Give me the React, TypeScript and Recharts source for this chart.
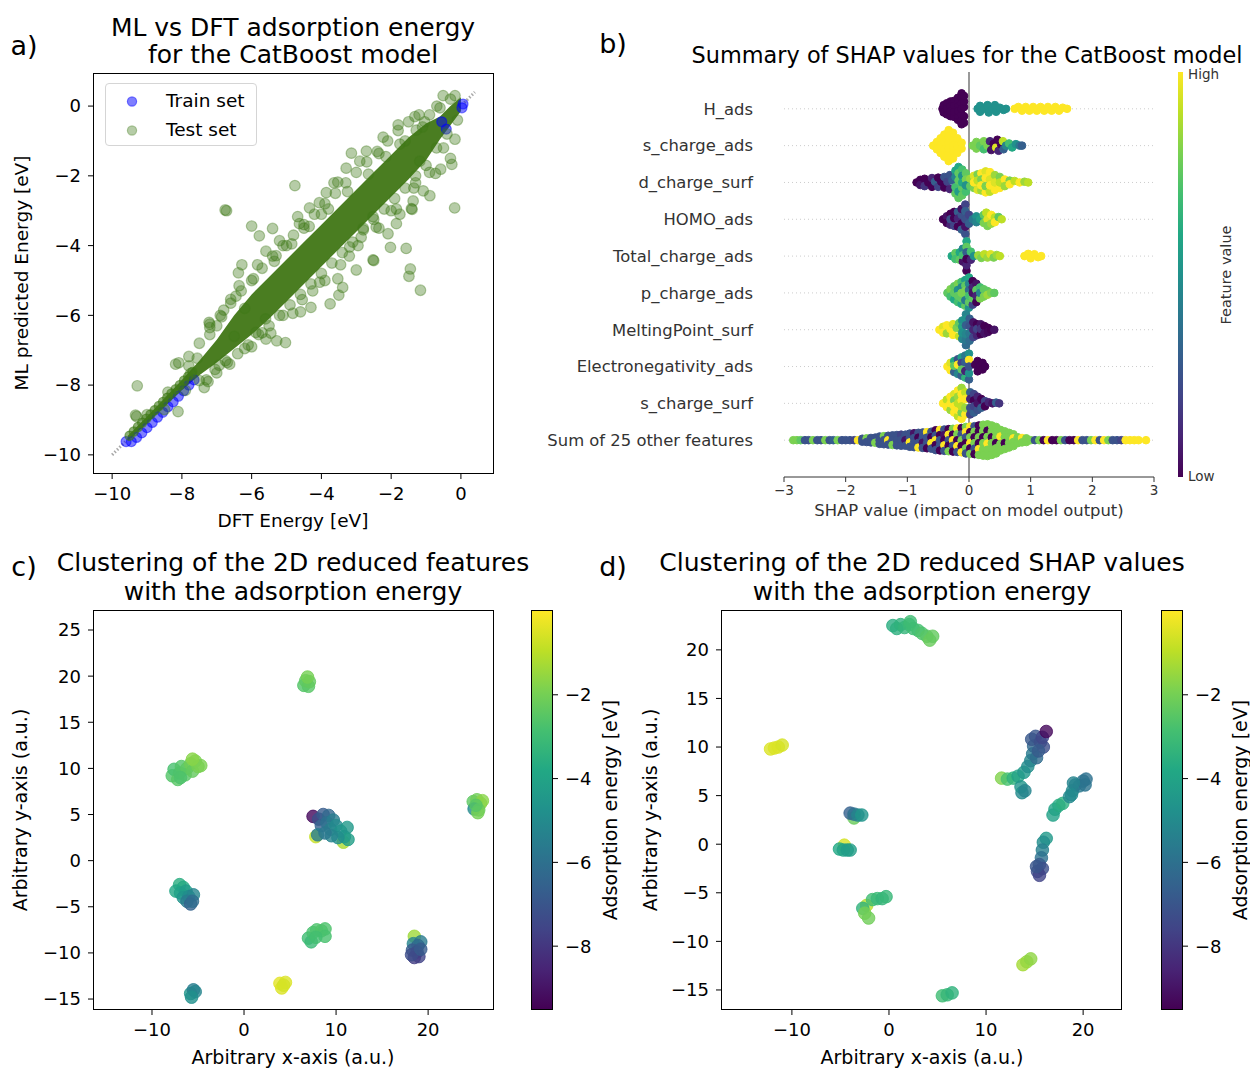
import React from 'react';
import { ComposedChart, ScatterChart, BarChart, Scatter, Area, Bar, XAxis, YAxis, ReferenceLine } from 'recharts';

// ---------------- DATA ----------------
// Panel a: parity plot
const A_TICKS = [-10, -8, -6, -4, -2, 0];
// y = x guide, visible parts beyond the dense band
const DIAG_SEGMENTS = [[[-10, -10], [-9.62, -9.62]], [[0.1, 0.1], [0.4, 0.4]]];
const BAND_X = [-9.55, -9.0, -8.5, -8.0, -7.5, -7.0, -6.5, -6.0, -5.5, -5.0, -4.5, -4.0, -3.5, -3.0, -2.5, -2.0, -1.5, -1.0, -0.6, -0.3, 0.0];
const BAND_LO = [-9.6, -9.1, -8.62, -8.15, -7.72, -7.35, -6.95, -6.55, -6.1, -5.6, -5.1, -4.6, -4.1, -3.6, -3.1, -2.6, -2.1, -1.55, -0.95, -0.55, -0.15];
const BAND_HI = [-9.45, -8.9, -8.38, -7.85, -7.3, -6.7, -6.0, -5.4, -4.9, -4.4, -3.9, -3.4, -2.9, -2.4, -1.9, -1.4, -0.9, -0.5, -0.3, 0.0, 0.25];
const TRAIN_SET = [[-9.6, -9.62], [-9.45, -9.62], [-9.3, -9.5], [-9.15, -9.37], [-9.0, -9.22], [-8.85, -9.07], [-8.7, -8.92], [-8.55, -8.78], [-8.4, -8.62], [-8.25, -8.48], [-8.1, -8.32], [-7.95, -8.16], [-7.8, -8.0], [-7.65, -7.85], [-0.55, -0.45], [-0.42, -0.66], [0.06, 0.06], [0.03, -0.05]];
const TEST_THIN = [[-9.5, -9.45], [-9.38, -9.33], [-9.26, -9.2], [-9.14, -9.08], [-9.02, -8.96], [-8.9, -8.84], [-8.78, -8.72], [-8.66, -8.6], [-8.54, -8.48], [-8.42, -8.36], [-8.3, -8.24], [-8.18, -8.12], [-8.06, -8.0], [-7.94, -7.87], [-7.82, -7.75], [-7.7, -7.62]];
const TEST_EDGE = [[-9.0, -8.85], [-8.4, -8.2], [-7.8, -7.45], [-7.5, -6.8], [-7.2, -6.35], [-6.9, -6.0], [-6.6, -5.65], [-6.3, -5.3], [-6.0, -5.0], [-5.7, -4.65], [-5.4, -4.3], [-5.1, -4.0], [-4.8, -3.7], [-4.5, -3.4], [-4.2, -3.1], [-3.9, -2.8], [-3.6, -2.5], [-3.3, -2.2], [-3.0, -1.9], [-2.7, -1.6], [-2.4, -1.3], [-2.1, -1.0], [-1.8, -0.7], [-1.5, -0.45], [-1.2, -0.25], [-0.9, -0.25], [-0.6, -0.05], [-0.3, 0.2], [-8.5, -8.7], [-7.9, -8.15], [-7.3, -7.85], [-7.0, -7.65], [-6.7, -7.35], [-6.4, -7.1], [-6.1, -6.85], [-5.8, -6.55], [-5.5, -6.3], [-5.2, -6.0], [-4.9, -5.7], [-4.6, -5.4], [-4.3, -5.1], [-4.0, -4.8], [-3.7, -4.5], [-3.4, -4.2], [-3.1, -3.9], [-2.8, -3.55], [-2.5, -3.25], [-2.2, -2.95], [-1.9, -2.65], [-1.6, -2.35], [-1.3, -2.0], [-1.0, -1.7], [-0.7, -1.2], [-0.4, -0.8], [-0.1, -0.4]];
const TEST_HALO = [[-7.2, -6.55], [-7.05, -7.55], [-6.8, -5.85], [-6.75, -7.3], [-6.45, -5.45], [-6.2, -6.95], [-5.95, -4.95], [-5.7, -6.5], [-5.35, -4.45], [-5.1, -6.0], [-4.85, -3.95], [-4.55, -5.55], [-4.35, -3.45], [-4.05, -5.05], [-3.8, -2.95], [-3.45, -4.55], [-3.25, -2.45], [-2.95, -4.0], [-2.65, -1.95], [-2.35, -3.5], [-2.15, -1.45], [-1.85, -2.95], [-1.6, -1.0], [-1.35, -2.35], [-1.1, -0.6]];
const TEST_OUTLIERS = [[-6.76, -2.98], [-6.72, -3.0], [-4.76, -2.28], [-6.0, -3.44], [-5.78, -3.72], [-5.4, -3.51], [-3.14, -1.35], [-2.35, -1.36], [-3.64, -2.2], [-0.18, -2.92], [-2.02, -4.05], [-1.57, -4.08], [-1.45, -4.67], [-1.49, -4.88], [-1.16, -5.28], [-2.52, -4.41], [-2.5, -4.43], [-6.28, -4.55], [-5.83, -4.55], [-6.38, -4.78], [-5.3, -4.29], [-3.75, -5.67], [-4.3, -5.77], [-4.82, -5.94], [-5.03, -6.78], [-5.28, -6.73], [-5.59, -6.68], [-4.25, -5.3], [-3.5, -5.42], [-3.39, -5.2], [-3.53, -4.95], [-9.28, -8.02], [-8.11, -8.76], [-9.33, -8.86], [-9.3, -8.9], [-8.18, -7.4], [-8.09, -7.36], [-7.8, -7.18], [-7.56, -7.23], [-7.36, -8.07], [-7.25, -7.9], [-6.93, -7.43], [-6.63, -7.4], [-7.22, -6.2], [-7.2, -6.25], [-6.86, -6.04], [-0.69, 0.0], [-0.17, -0.95], [-0.26, -1.67], [-0.73, -1.93], [-0.58, -1.81], [-1.28, -0.69], [-1.04, -0.45], [-1.75, -1.09], [-1.18, -1.58], [-0.89, -2.57], [-1.08, -2.43], [-1.37, -2.72], [-1.42, -2.94], [-1.4, -2.96], [-1.75, -3.1], [-1.85, -3.37], [-2.09, -3.66], [-2.43, -3.47], [-2.86, -3.76], [-3.19, -4.04], [-2.52, -3.17], [-4.06, -2.77], [-4.34, -2.92], [-4.63, -3.37], [-4.68, -3.17], [-5.88, -6.49], [-5.45, -6.51], [-7.75, -7.67], [-7.5, -7.87], [-6.6, -5.54], [-6.36, -5.15], [-5.59, -4.16], [-5.2, -3.86], [-3.86, -2.48], [-3.53, -2.18], [-3.29, -1.78], [-2.9, -1.58], [-2.71, -1.29], [-2.23, -0.89], [-1.8, -0.54], [-1.32, -0.3], [-0.51, 0.3], [-0.17, 0.3], [-6.2, -5.8], [-5.0, -4.0], [-4.5, -3.5], [-4.0, -3.1], [-3.2, -4.3], [-2.8, -3.5], [-2.0, -3.0], [-1.3, -2.2], [-0.9, -1.9], [-0.5, -1.2], [-0.3, -1.5], [-7.0, -6.3], [-6.5, -6.6], [-6.0, -6.9], [-5.6, -6.1], [-4.6, -5.9], [-3.9, -5.0], [-3.0, -4.7]];

// Panel b: SHAP beeswarm, rows top to bottom; points are [shap, vertical offset, feature value 0..1]
const FEATURES = ['H_ads', 's_charge_ads', 'd_charge_surf', 'HOMO_ads', 'Total_charge_ads', 'p_charge_ads', 'MeltingPoint_surf', 'Electronegativity_ads', 's_charge_surf', 'Sum of 25 other features'];
const SHAP_TICKS = [-3, -2, -1, 0, 1, 2, 3];
const ROW_H_ADS = [[-0.43, 0, 0], [-0.41, 0.1, 0], [-0.41, -0.1, 0], [-0.36, 0.15, 0], [-0.36, -0.15, 0], [-0.36, 0, 0], [-0.3, 0.2, 0], [-0.3, -0.2, 0], [-0.3, 0.07, 0], [-0.3, -0.07, 0], [-0.24, 0.22, 0], [-0.24, -0.22, 0], [-0.24, 0.08, 0], [-0.24, -0.08, 0], [-0.18, 0.3, 0], [-0.18, -0.3, 0], [-0.18, 0.18, 0], [-0.18, -0.18, 0], [-0.18, 0.06, 0], [-0.18, -0.06, 0], [-0.12, 0.42, 0], [-0.12, -0.42, 0], [-0.12, 0.3, 0], [-0.12, -0.3, 0], [-0.12, 0.15, 0], [-0.12, -0.15, 0], [-0.12, 0, 0], [-0.08, 0.05, 0], [-0.08, -0.2, 0], [-0.08, 0.2, 0], [-0.08, 0.35, 0], [-0.08, -0.38, 0], [0.14, 0, 0.5], [0.18, 0.08, 0.5], [0.18, -0.08, 0.5], [0.25, 0, 0.5], [0.3, 0.1, 0.5], [0.32, -0.1, 0.5], [0.38, 0, 0.5], [0.42, 0.1, 0.5], [0.44, -0.08, 0.5], [0.5, 0.03, 0.5], [0.56, -0.03, 0.5], [0.6, 0, 0.5], [0.74, 0, 1], [0.8, 0.05, 1], [0.86, -0.05, 1], [0.92, 0.05, 1], [0.98, -0.05, 1], [1.04, 0.05, 1], [1.1, -0.05, 1], [1.16, 0.05, 1], [1.22, -0.05, 1], [1.28, 0.05, 1], [1.34, -0.05, 1], [1.4, 0.05, 1], [1.46, -0.05, 1], [1.52, 0.03, 1], [1.59, 0, 1]];
const ROW_S_CHARGE_ADS = [[-0.58, 0, 1], [-0.52, 0.1, 1], [-0.52, -0.1, 1], [-0.46, 0.2, 1], [-0.46, -0.2, 1], [-0.46, 0, 1], [-0.4, 0.3, 1], [-0.4, -0.3, 1], [-0.4, 0.1, 1], [-0.4, -0.1, 1], [-0.33, 0.42, 1], [-0.33, -0.42, 1], [-0.33, 0.25, 1], [-0.33, -0.25, 1], [-0.33, 0.08, 1], [-0.33, -0.08, 1], [-0.26, 0.35, 1], [-0.26, -0.35, 1], [-0.26, 0.15, 1], [-0.26, -0.15, 1], [-0.26, 0, 1], [-0.19, 0.2, 1], [-0.19, -0.2, 1], [-0.19, 0, 1], [-0.12, 0.08, 1], [-0.12, -0.08, 1], [0.06, 0, 0.8], [0.12, 0.1, 0.8], [0.12, -0.08, 0.8], [0.18, 0, 0.75], [0.24, 0.12, 0.8], [0.24, -0.1, 0.7], [0.3, 0, 0.8], [0.34, 0.12, 0.1], [0.36, -0.12, 0.05], [0.4, 0.05, 0], [0.44, -0.05, 0.95], [0.46, 0.16, 0], [0.48, -0.14, 0.1], [0.52, 0.03, 0], [0.55, 0.12, 0.9], [0.56, -0.1, 0.3], [0.6, 0, 0.45], [0.65, 0.06, 0.7], [0.7, -0.05, 0.6], [0.76, 0.04, 0.5], [0.82, 0, 0.4], [0.86, 0, 0.3]];
const ROW_D_CHARGE_SURF = [[-0.85, 0, 0], [-0.79, 0.07, 0], [-0.79, -0.07, 0.05], [-0.72, 0.1, 0], [-0.72, -0.1, 0.15], [-0.66, 0, 0], [-0.6, 0.12, 0.1], [-0.6, -0.12, 0], [-0.55, 0.02, 0.3], [-0.5, 0.13, 0], [-0.5, -0.12, 0.2], [-0.45, 0.02, 0], [-0.4, 0.15, 0.25], [-0.4, -0.14, 0], [-0.35, 0.02, 0.2], [-0.31, 0.2, 0.25], [-0.31, -0.18, 0.1], [-0.27, 0.05, 0.3], [-0.22, 0.32, 0.6], [-0.22, -0.3, 0.75], [-0.22, 0.15, 0.45], [-0.22, -0.13, 0.7], [-0.17, 0.42, 0.6], [-0.17, -0.42, 0.75], [-0.17, 0.25, 0.75], [-0.17, -0.25, 0.55], [-0.17, 0.05, 0.75], [-0.11, 0.35, 0.7], [-0.11, -0.35, 0.75], [-0.11, 0.18, 0.5], [-0.11, -0.15, 0.75], [-0.11, 0, 0.6], [-0.05, 0.25, 0.75], [-0.05, -0.25, 0.7], [-0.05, 0.08, 0.8], [-0.05, -0.08, 0.5], [0.02, 0.1, 0.85], [0.02, -0.1, 0.75], [0.08, 0.18, 0.95], [0.08, -0.15, 0.8], [0.08, 0, 1], [0.14, 0.22, 0.8], [0.14, -0.2, 0.95], [0.14, 0.05, 0.9], [0.2, 0.25, 1], [0.2, -0.22, 0.85], [0.2, 0.08, 0.8], [0.2, -0.08, 1], [0.27, 0.3, 0.95], [0.27, -0.27, 1], [0.27, 0.12, 1], [0.27, -0.1, 0.8], [0.34, 0.28, 1], [0.34, -0.25, 0.9], [0.34, 0.08, 0.95], [0.34, -0.08, 1], [0.42, 0.2, 0.85], [0.42, -0.2, 1], [0.42, 0, 0.95], [0.5, 0.15, 0.8], [0.5, -0.15, 1], [0.5, 0, 0.9], [0.58, 0.08, 1], [0.58, -0.1, 0.85], [0.66, 0.05, 0.8], [0.66, -0.05, 1], [0.74, 0.04, 0.9], [0.82, 0, 1], [0.9, 0.02, 0.85], [0.96, 0, 0.9]];
const ROW_HOMO_ADS = [[-0.42, 0, 0], [-0.36, 0.08, 0.05], [-0.36, -0.1, 0], [-0.3, 0.15, 0], [-0.3, -0.15, 0.1], [-0.3, 0, 0.25], [-0.24, 0.2, 0], [-0.24, -0.18, 0.2], [-0.24, 0.03, 0], [-0.18, 0.2, 0.3], [-0.18, -0.2, 0], [-0.18, 0.02, 0.1], [-0.12, 0.12, 0.25], [-0.12, -0.12, 0], [-0.12, 0.28, 0.05], [-0.12, -0.28, 0.3], [-0.06, 0.4, 0.2], [-0.06, -0.4, 0.25], [-0.06, 0.22, 0.3], [-0.06, -0.2, 0.05], [-0.06, 0, 0.25], [0, 0.12, 0.2], [0, -0.12, 0.3], [0.06, 0, 0.4], [0.12, 0.08, 0.5], [0.12, -0.08, 0.45], [0.18, 0, 0.55], [0.24, 0.12, 0.75], [0.24, -0.1, 0.8], [0.28, 0.18, 0.9], [0.3, 0, 0.95], [0.3, -0.18, 0.8], [0.36, 0.12, 1], [0.36, -0.12, 0.85], [0.42, 0.05, 0.9], [0.42, -0.08, 1], [0.48, 0.06, 0.75], [0.53, 0, 0.9]];
const ROW_TOTAL_CHARGE_ADS = [[-0.28, 0, 0.6], [-0.22, 0.08, 0.75], [-0.22, -0.08, 0.7], [-0.15, 0.1, 0.6], [-0.15, -0.1, 0.75], [-0.1, 0.2, 0.45], [-0.1, -0.15, 0.05], [-0.1, 0.02, 0.7], [-0.04, 0.4, 0.6], [-0.04, -0.4, 0], [-0.04, 0.25, 0.75], [-0.04, -0.25, 0.1], [-0.04, 0.1, 0.3], [-0.04, -0.08, 0], [0.03, 0.12, 0.7], [0.03, -0.1, 0.1], [0.08, 0, 0.5], [0.15, 0.02, 0.85], [0.2, -0.05, 0.8], [0.25, 0.05, 0.9], [0.3, -0.04, 0.85], [0.35, 0.05, 0.95], [0.4, -0.04, 0.8], [0.45, 0.03, 0.85], [0.5, 0, 0.9], [0.9, 0, 1], [0.96, 0.06, 1], [1.0, -0.06, 1], [1.06, 0.05, 1], [1.12, -0.03, 1], [1.17, 0, 1]];
const ROW_P_CHARGE_ADS = [[-0.35, 0, 0.75], [-0.3, 0.1, 0.8], [-0.3, -0.1, 0.7], [-0.24, 0.18, 0.75], [-0.24, -0.18, 0.6], [-0.24, 0, 0.75], [-0.18, 0.25, 0.8], [-0.18, -0.25, 0.7], [-0.18, 0.08, 0.5], [-0.18, -0.08, 0.75], [-0.12, 0.3, 0.7], [-0.12, -0.3, 0.6], [-0.12, 0.15, 0.45], [-0.12, -0.15, 0.75], [-0.12, 0, 0.8], [-0.06, 0.35, 0.55], [-0.06, -0.35, 0.75], [-0.06, 0.2, 0.75], [-0.06, -0.2, 0.4], [-0.06, 0.05, 0.8], [0, 0.42, 0.6], [0, -0.4, 0.5], [0, 0.25, 0.45], [0, -0.25, 0.75], [0, 0.08, 0.35], [0, -0.08, 0.7], [0.06, 0.32, 0], [0.06, -0.32, 0.2], [0.06, 0.15, 0.1], [0.06, -0.15, 0.75], [0.06, 0, 0.05], [0.12, 0.25, 0.05], [0.12, -0.25, 0], [0.12, 0.08, 0.75], [0.12, -0.08, 0.1], [0.18, 0.15, 0.7], [0.18, -0.15, 0.8], [0.18, 0, 0.45], [0.24, 0.1, 0.75], [0.24, -0.1, 0.8], [0.3, 0.05, 0.75], [0.3, -0.05, 0.85], [0.36, 0, 0.8], [0.41, 0, 0.75]];
const ROW_MELTING_POINT_SURF = [[-0.48, 0, 1], [-0.42, 0.08, 0.95], [-0.42, -0.08, 1], [-0.36, 0.12, 1], [-0.36, -0.1, 0.85], [-0.3, 0.02, 1], [-0.26, 0.15, 0.95], [-0.26, -0.14, 1], [-0.2, 0.05, 0.8], [-0.16, 0.18, 0.75], [-0.16, -0.18, 0.9], [-0.11, 0.25, 0.5], [-0.11, -0.25, 0.45], [-0.11, 0.08, 0.55], [-0.11, -0.08, 0.5], [-0.05, 0.42, 0.45], [-0.05, -0.42, 0.35], [-0.05, 0.28, 0.5], [-0.05, -0.28, 0.4], [-0.05, 0.12, 0.3], [-0.05, -0.12, 0.45], [0.01, 0.3, 0.3], [0.01, -0.3, 0.35], [0.01, 0.1, 0.25], [0.01, -0.1, 0.4], [0.07, 0.2, 0.05], [0.07, -0.2, 0.2], [0.07, 0, 0.1], [0.13, 0.15, 0], [0.13, -0.15, 0.1], [0.13, 0.02, 0.2], [0.19, 0.15, 0.05], [0.19, -0.12, 0], [0.19, 0.02, 0.15], [0.25, 0.1, 0], [0.25, -0.1, 0.05], [0.31, 0.05, 0], [0.31, -0.06, 0.02], [0.36, 0, 0], [0.41, 0, 0.05]];
const ROW_ELECTRONEGATIVITY_ADS = [[-0.35, 0, 1], [-0.3, 0.1, 0.95], [-0.3, -0.1, 1], [-0.24, 0.15, 0.6], [-0.24, -0.15, 0.3], [-0.24, 0.02, 0.75], [-0.18, 0.2, 0.25], [-0.18, -0.2, 0.45], [-0.18, 0.05, 1], [-0.12, 0.25, 0.55], [-0.12, -0.25, 0.3], [-0.12, 0.1, 0.2], [-0.12, -0.08, 0.75], [-0.06, 0.3, 0.4], [-0.06, -0.3, 0.65], [-0.06, 0.12, 0.3], [-0.06, -0.12, 0.1], [0, 0.35, 0.5], [0, -0.35, 0.3], [0, 0.18, 1], [0, -0.18, 0.5], [0, 0, 0.25], [0.1, 0.05, 0], [0.14, 0.15, 0], [0.14, -0.13, 0], [0.18, 0.02, 0], [0.22, 0.1, 0], [0.22, -0.08, 0], [0.26, 0, 0]];
const ROW_S_CHARGE_SURF = [[-0.42, 0, 1], [-0.36, 0.1, 0.9], [-0.36, -0.1, 1], [-0.3, 0.18, 1], [-0.3, -0.18, 0.85], [-0.3, 0, 1], [-0.24, 0.25, 0.95], [-0.24, -0.25, 1], [-0.24, 0.08, 0.8], [-0.24, -0.08, 1], [-0.18, 0.35, 1], [-0.18, -0.35, 0.9], [-0.18, 0.18, 0.85], [-0.18, -0.18, 1], [-0.18, 0, 0.9], [-0.12, 0.42, 0.85], [-0.12, -0.42, 1], [-0.12, 0.25, 1], [-0.12, -0.25, 0.8], [-0.12, 0.08, 1], [-0.12, -0.08, 0.9], [-0.06, 0.3, 0.9], [-0.06, -0.3, 1], [-0.06, 0.12, 1], [-0.06, -0.12, 0.85], [0.02, 0.3, 0.3], [0.02, -0.3, 0.2], [0.02, 0.12, 0.1], [0.02, -0.12, 0.25], [0.08, 0.25, 0.2], [0.08, -0.25, 0.3], [0.08, 0.08, 0], [0.08, -0.08, 0.2], [0.14, 0.18, 0.1], [0.14, -0.18, 0.25], [0.14, 0, 0.05], [0.2, 0.12, 0], [0.2, -0.12, 0.3], [0.26, 0.06, 0.2], [0.26, -0.08, 0], [0.32, 0.03, 0.1], [0.38, 0, 0.05], [0.44, 0.02, 0.3], [0.49, 0, 0.15]];
const ROW_SUM_OTHER = [
  [-2.85, 0, 0.8], [-2.79, 0, 0.8], [-2.73, 0, 0.75], [-2.66, 0, 0.25], [-2.6, 0, 0.25], [-2.53, 0, 0.8], [-2.46, 0, 0.25], [-2.4, 0, 0.25], [-2.33, 0, 0.8], [-2.26, 0, 0.25], [-2.2, 0, 0.3], [-2.13, 0, 0.8], [-2.06, 0, 0.25], [-2.0, 0, 0.25], [-1.93, 0, 0.25], [-1.86, 0, 0.2], [-1.8, 0, 1],
  [-1.73, 0.04, 0.25], [-1.73, -0.04, 0.25], [-1.66, 0.05, 0.8], [-1.66, -0.05, 0.25], [-1.59, 0.06, 0.25], [-1.59, -0.06, 0.25], [-1.52, 0.07, 0.25], [-1.52, -0.07, 0.8],
  [-1.45, 0.1, 0.25], [-1.45, 0, 0.25], [-1.45, -0.1, 0.25], [-1.38, 0.11, 0.8], [-1.38, 0, 0.25], [-1.38, -0.11, 0.25], [-1.31, 0.12, 0.25], [-1.31, 0, 1], [-1.31, -0.12, 0.25], [-1.24, 0.13, 0.25], [-1.24, 0, 0.25], [-1.24, -0.13, 0.8], [-1.17, 0.14, 0.25], [-1.17, 0, 0.25], [-1.17, -0.14, 0.25], [-1.1, 0.15, 0.2], [-1.1, 0, 0.25], [-1.1, -0.15, 0.25], [-1.03, 0.15, 0.25], [-1.03, 0, 0.05], [-1.03, -0.15, 0.25],
  [-0.96, 0.18, 0.25], [-0.96, 0.06, 0.25], [-0.96, -0.06, 1], [-0.96, -0.18, 0.25], [-0.89, 0.19, 0.05], [-0.89, 0.06, 0.25], [-0.89, -0.06, 0.25], [-0.89, -0.19, 0.25], [-0.82, 0.2, 0.25], [-0.82, 0.07, 0], [-0.82, -0.07, 0.25], [-0.82, -0.2, 1], [-0.75, 0.21, 0.25], [-0.75, 0.07, 0.25], [-0.75, -0.07, 0.05], [-0.75, -0.21, 0.25], [-0.68, 0.22, 1], [-0.68, 0.07, 0.25], [-0.68, -0.07, 0.25], [-0.68, -0.22, 0], [-0.61, 0.23, 0.25], [-0.61, 0.08, 0], [-0.61, -0.08, 1], [-0.61, -0.23, 0.25],
  [-0.54, 0.27, 0], [-0.54, 0.13, 0.25], [-0.54, 0, 1], [-0.54, -0.13, 0], [-0.54, -0.27, 0.25], [-0.47, 0.28, 1], [-0.47, 0.14, 0], [-0.47, 0, 0.25], [-0.47, -0.14, 0.25], [-0.47, -0.28, 0], [-0.4, 0.29, 0.25], [-0.4, 0.14, 0.05], [-0.4, 0, 0], [-0.4, -0.14, 1], [-0.4, -0.29, 0.25], [-0.33, 0.3, 0], [-0.33, 0.15, 1], [-0.33, 0, 0.25], [-0.33, -0.15, 0], [-0.33, -0.3, 0.8], [-0.26, 0.31, 0.8], [-0.26, 0.15, 0], [-0.26, 0, 1], [-0.26, -0.15, 0.25], [-0.26, -0.31, 0], [-0.19, 0.32, 1], [-0.19, 0.16, 0.8], [-0.19, 0, 0], [-0.19, -0.16, 1], [-0.19, -0.32, 0.25], [-0.12, 0.33, 0], [-0.12, 0.16, 0.25], [-0.12, 0, 0.8], [-0.12, -0.16, 0], [-0.12, -0.33, 1],
  [-0.05, 0.36, 0.8], [-0.05, 0.22, 1], [-0.05, 0.08, 0.25], [-0.05, -0.08, 0], [-0.05, -0.22, 0.8], [-0.05, -0.36, 0.25], [0.02, 0.37, 1], [0.02, 0.22, 0], [0.02, 0.08, 0.8], [0.02, -0.08, 1], [0.02, -0.22, 0], [0.02, -0.37, 0.8], [0.09, 0.38, 0.25], [0.09, 0.23, 0.8], [0.09, 0.08, 0], [0.09, -0.08, 0.8], [0.09, -0.23, 0.25], [0.09, -0.38, 0], [0.16, 0.4, 0], [0.16, 0.24, 0], [0.16, 0.08, 0.8], [0.16, -0.08, 0], [0.16, -0.24, 1], [0.16, -0.4, 0.8], [0.23, 0.42, 0.8], [0.23, 0.25, 0.8], [0.23, 0.08, 0], [0.23, -0.08, 0.8], [0.23, -0.25, 0.8], [0.23, -0.42, 0.8], [0.3, 0.43, 0.8], [0.3, 0.26, 0], [0.3, 0.09, 0.8], [0.3, -0.09, 1], [0.3, -0.26, 0.8], [0.3, -0.43, 0.8], [0.37, 0.4, 0.8], [0.37, 0.24, 0.8], [0.37, 0.08, 0], [0.37, -0.08, 0.8], [0.37, -0.24, 0.8], [0.37, -0.4, 0.8], [0.44, 0.36, 0.8], [0.44, 0.22, 0.8], [0.44, 0.08, 0.8], [0.44, -0.08, 0], [0.44, -0.22, 0.8], [0.44, -0.36, 0.8],
  [0.51, 0.28, 0.8], [0.51, 0.1, 1], [0.51, -0.1, 0.8], [0.51, -0.28, 0.8], [0.58, 0.24, 0.8], [0.58, 0.08, 0.8], [0.58, -0.08, 0], [0.58, -0.24, 0.8], [0.65, 0.2, 0.8], [0.65, 0.07, 0.8], [0.65, -0.07, 0.8], [0.65, -0.2, 0.8], [0.72, 0.16, 0.8], [0.72, 0.05, 1], [0.72, -0.05, 0.8], [0.72, -0.16, 0.8],
  [0.79, 0.08, 0.8], [0.79, -0.08, 0.8], [0.86, 0.06, 1], [0.86, -0.06, 0.8], [0.93, 0.05, 0.8], [0.93, -0.05, 0.8],
  [1.0, 0, 0.8], [1.07, 0, 0.25], [1.14, 0, 0.8], [1.21, 0, 0], [1.28, 0, 1], [1.35, 0, 0], [1.42, 0, 0], [1.49, 0, 0.8], [1.56, 0, 0.25], [1.63, 0, 0], [1.7, 0, 0], [1.77, 0, 1], [1.84, 0, 0.25], [1.91, 0, 0.25], [1.98, 0, 0.8], [2.05, 0, 1], [2.12, 0, 0.25], [2.19, 0, 1], [2.26, 0, 0.8], [2.33, 0, 0.25], [2.4, 0, 0.25], [2.47, 0, 0.2], [2.54, 0, 1], [2.61, 0, 1], [2.68, 0, 1], [2.75, 0, 1], [2.87, 0, 1]
];
const SHAP_ROWS = [ROW_H_ADS, ROW_S_CHARGE_ADS, ROW_D_CHARGE_SURF, ROW_HOMO_ADS, ROW_TOTAL_CHARGE_ADS, ROW_P_CHARGE_ADS, ROW_MELTING_POINT_SURF, ROW_ELECTRONEGATIVITY_ADS, ROW_S_CHARGE_SURF, ROW_SUM_OTHER];

// Panels c, d: [x, y, adsorption energy]
const ENERGY_MIN = -9.5;
const ENERGY_MAX = 0;
const CB_TICKS = [-8, -6, -4, -2];
const C_XTICKS = [-10, 0, 10, 20];
const C_YTICKS = [-15, -10, -5, 0, 5, 10, 15, 20, 25];
const D_XTICKS = [-10, 0, 10, 20];
const D_YTICKS = [-15, -10, -5, 0, 5, 10, 15, 20];
const C_POINTS = [[6.5, 19.0, -2.6], [7.0, 18.9, -2.5], [6.7, 19.5, -2.4], [7.1, 19.4, -2.3], [6.9, 19.9, -2.0], [-7.8, 9.2, -2.6], [-7.6, 9.9, -2.8], [-7.2, 8.8, -2.5], [-7.0, 9.5, -2.7], [-6.8, 10.2, -2.6], [-6.4, 9.3, -2.5], [-6.2, 10.0, -2.4], [-5.8, 10.5, -2.1], [-5.6, 9.7, -2.3], [-5.3, 10.8, -1.9], [-5.0, 10.2, -2.0], [-4.7, 10.3, -1.9], [-5.6, 11.0, -1.7], [-6.9, 9.0, -2.7], [7.8, 2.6, -0.8], [10.8, 2.0, -1.2], [7.5, 4.8, -9.3], [8.1, 4.5, -7.3], [8.6, 5.0, -6.8], [9.2, 4.9, -6.3], [8.4, 3.8, -6.6], [9.0, 4.1, -6.0], [9.7, 4.4, -5.5], [9.4, 3.4, -5.4], [10.0, 3.8, -5.0], [10.5, 3.2, -4.7], [11.2, 3.6, -4.4], [10.9, 2.6, -4.6], [11.3, 2.3, -4.2], [10.2, 2.5, -4.9], [9.5, 2.7, -5.2], [8.0, 2.8, -5.5], [8.8, 3.0, -5.7], [24.9, 6.4, -2.4], [25.3, 6.6, -2.1], [25.7, 6.2, -1.6], [25.9, 6.5, -1.7], [25.0, 5.6, -5.0], [25.5, 5.5, -2.2], [25.4, 5.2, -2.0], [25.2, 6.0, -2.5], [-7.0, -2.6, -3.6], [-6.6, -2.9, -3.7], [-7.4, -3.3, -3.9], [-6.9, -3.5, -4.1], [-6.3, -3.3, -4.3], [-6.6, -4.0, -4.6], [-6.0, -3.9, -4.9], [-5.5, -3.7, -5.2], [-6.2, -4.4, -5.6], [-5.8, -4.7, -6.5], [-5.6, -4.4, -6.1], [7.0, -8.4, -3.0], [7.3, -8.8, -3.1], [7.5, -7.8, -2.8], [7.9, -7.5, -2.7], [8.4, -7.6, -2.6], [8.8, -7.4, -2.7], [8.8, -8.2, -2.8], [7.8, -8.3, -2.9], [18.5, -8.2, -1.4], [18.4, -9.0, -5.2], [19.2, -8.8, -5.6], [18.9, -9.2, -6.2], [18.3, -9.7, -6.8], [18.8, -9.9, -7.2], [19.0, -10.4, -7.6], [18.5, -10.5, -7.8], [18.2, -10.2, -7.3], [19.2, -9.6, -6.8], [-5.8, -14.4, -4.6], [-5.5, -14.0, -5.5], [-5.3, -14.2, -5.2], [-5.7, -14.8, -4.8], [3.9, -13.3, -0.4], [4.5, -13.2, -0.5], [4.1, -13.8, -0.5], [4.3, -13.5, -0.6]];
const D_POINTS = [[0.4, 22.5, -3.6], [0.8, 22.2, -3.5], [1.2, 22.6, -3.4], [1.6, 22.3, -3.3], [2.1, 22.6, -3.1], [2.5, 22.2, -3.0], [3.0, 22.0, -2.9], [3.4, 21.7, -2.7], [3.9, 21.4, -2.5], [4.2, 21.0, -2.2], [4.5, 21.4, -2.3], [2.2, 22.9, -3.0], [-12.2, 9.8, -0.5], [-11.8, 9.9, -0.5], [-11.4, 10.0, -0.5], [-11.0, 10.2, -0.6], [-3.6, 2.7, -2.2], [-4.0, 3.2, -6.6], [-3.6, 3.1, -6.0], [-3.2, 3.0, -5.2], [-2.8, 3.0, -4.6], [-4.6, -0.1, -0.6], [-5.1, -0.5, -3.8], [-4.7, -0.6, -4.0], [-4.3, -0.6, -4.3], [-4.0, -0.6, -4.2], [-2.3, -6.3, -1.0], [-2.7, -6.6, -3.4], [-2.5, -7.1, -2.0], [-2.1, -7.6, -2.1], [-1.7, -5.7, -3.0], [-1.2, -5.6, -3.1], [-0.7, -5.6, -3.3], [-0.3, -5.4, -3.2], [11.6, 6.8, -1.8], [12.2, 6.7, -2.8], [12.8, 6.8, -3.4], [13.3, 7.0, -4.0], [13.7, 5.3, -5.0], [13.6, 5.9, -4.6], [14.0, 5.5, -5.2], [13.9, 7.4, -4.4], [14.3, 8.0, -4.9], [14.6, 8.6, -5.2], [14.8, 9.3, -5.6], [15.2, 8.9, -6.2], [14.9, 10.1, -6.3], [14.7, 10.8, -6.9], [15.1, 11.1, -7.0], [15.6, 10.5, -7.2], [15.9, 10.0, -7.3], [15.4, 9.6, -6.8], [15.8, 11.0, -7.5], [16.2, 11.6, -9.3], [16.9, 3.0, -4.1], [17.1, 3.6, -4.0], [17.5, 4.0, -3.7], [17.9, 4.2, -3.5], [18.6, 4.9, -5.0], [18.9, 5.5, -5.1], [19.2, 6.1, -5.4], [19.6, 6.0, -5.6], [20.0, 6.5, -5.8], [20.3, 6.7, -6.0], [20.2, 6.1, -5.9], [19.0, 6.3, -5.3], [18.8, 5.1, -5.0], [16.2, 0.6, -4.4], [15.9, 0.2, -4.9], [15.8, -0.6, -5.4], [15.7, -1.4, -6.0], [15.5, -2.1, -6.8], [15.8, -2.5, -7.2], [15.3, -2.8, -7.3], [15.5, -3.2, -7.6], [15.2, -2.3, -7.0], [13.8, -12.4, -1.3], [14.2, -12.1, -1.5], [14.6, -11.8, -1.6], [5.5, -15.6, -3.0], [6.0, -15.5, -3.2], [6.5, -15.3, -3.4]];

// ---------------- HELPERS ----------------
const FONT = "'DejaVu Sans', 'Liberation Sans', sans-serif";
const VIR = ['#440154', '#482475', '#414487', '#355f8d', '#2a788e', '#21918c', '#22a884', '#44bf70', '#7ad151', '#bddf26', '#fde725'];
function hex(h: string) {
  return [parseInt(h.slice(1, 3), 16), parseInt(h.slice(3, 5), 16), parseInt(h.slice(5, 7), 16)];
}
function viridis(t: number) {
  const tt = Math.max(0, Math.min(1, t));
  const s = tt * 10;
  const i = Math.min(9, Math.floor(s));
  const f = s - i;
  const a = hex(VIR[i]);
  const b = hex(VIR[i + 1]);
  const c = a.map((v, k) => Math.round(v + (b[k] - v) * f));
  return `rgb(${c[0]},${c[1]},${c[2]})`;
}
const fmt = (v: number) => (v < 0 ? '\u2212' : '') + Math.abs(v);

function solidDot(color: string, opacity: number, r: number) {
  return (p: any) => {
    if (!p || p.cx == null || isNaN(p.cx)) return <g />;
    return <circle cx={p.cx} cy={p.cy} r={r} fill={color} fillOpacity={opacity} stroke={color} strokeOpacity={opacity} strokeWidth={1.2} />;
  };
}
function cmapDot(r: number, opacity: number, toT: (d: any) => number) {
  return (p: any) => {
    if (!p || p.cx == null || isNaN(p.cx)) return <g />;
    const col = viridis(toT(p.payload));
    return <circle cx={p.cx} cy={p.cy} r={r} fill={col} fillOpacity={opacity} stroke={col} strokeOpacity={opacity} strokeWidth={1} />;
  };
}

function Txt({ x, y, size, children, rotate = false, anchor = 'middle', color = '#000' }: any) {
  const tx = anchor === 'middle' ? '-50%' : anchor === 'end' ? '-100%' : '0';
  return (
    <div style={{ position: 'absolute', left: x, top: y, transform: `translate(${tx}, -50%)${rotate ? ' rotate(-90deg)' : ''}`, fontSize: size, fontFamily: FONT, whiteSpace: 'nowrap', lineHeight: 1, color }}>
      {children}
    </div>
  );
}
function Frame({ l, t, w, h }: any) {
  return <div style={{ position: 'absolute', left: l - 0.65, top: t - 0.65, width: w + 1.3, height: h + 1.3, border: '1.3px solid #000', boxSizing: 'border-box', pointerEvents: 'none' }} />;
}

const tickStyle = { fill: '#000', fontSize: 18, fontFamily: FONT };

// ---------------- PANELS ----------------
function PanelA() {
  const bandData = BAND_X.map((x, i) => ({ x, range: [BAND_LO[i], BAND_HI[i]] }));
  const train = TRAIN_SET.map(([x, y]) => ({ x, y }));
  const thin = TEST_THIN.map(([x, y]) => ({ x, y }));
  const test = [...TEST_EDGE, ...TEST_HALO, ...TEST_OUTLIERS].map(([x, y]) => ({ x, y }));
  return (
    <div style={{ position: 'absolute', left: 0, top: 0 }}>
      <ComposedChart width={510} height={540} data={bandData} margin={{ top: 74, right: 17, bottom: 27, left: 34 }}>
        <XAxis type="number" dataKey="x" domain={[-10.52, 0.92]} allowDataOverflow ticks={A_TICKS} interval={0} tickFormatter={fmt} height={40} tickSize={6} tickMargin={8} axisLine={false} stroke="#000" tick={tickStyle} />
        <YAxis type="number" dataKey="y" domain={[-10.52, 0.92]} allowDataOverflow ticks={A_TICKS} interval={0} tickFormatter={fmt} width={60} tickSize={6} tickMargin={7} axisLine={false} stroke="#000" tick={tickStyle} />
        {DIAG_SEGMENTS.map((seg, i) => (
          <ReferenceLine key={'d' + i} segment={[{ x: seg[0][0], y: seg[0][1] }, { x: seg[1][0], y: seg[1][1] }]} stroke="#a8a8a8" strokeWidth={3} strokeDasharray="1.5 2" />
        ))}
        <Scatter data={train} shape={solidDot('#0000ff', 0.5, 5)} isAnimationActive={false} />
        <Area type="linear" dataKey="range" fill="#4a7d21" fillOpacity={1} stroke="none" isAnimationActive={false} />
        <Scatter data={thin} shape={solidDot('#3f7a18', 0.6, 4.6)} isAnimationActive={false} />
        <Scatter data={test} shape={solidDot('#3f7a18', 0.38, 5.3)} isAnimationActive={false} />
      </ComposedChart>
      <Frame l={94} t={74} w={399} h={399} />
      <div style={{ position: 'absolute', left: 105, top: 83, width: 152, height: 63, border: '1px solid #d5d5d5', borderRadius: 4, background: 'rgba(255,255,255,0.85)', boxSizing: 'border-box' }}>
        <svg width={20} height={60} style={{ position: 'absolute', left: 16, top: 0 }}>
          <circle cx={10} cy={17.5} r={4.6} fill="#0000ff" fillOpacity={0.5} stroke="#0000ff" strokeOpacity={0.5} strokeWidth={1.2} />
          <circle cx={10} cy={46.5} r={4.6} fill="#3f7a18" fillOpacity={0.38} stroke="#3f7a18" strokeOpacity={0.38} strokeWidth={1.2} />
        </svg>
      </div>
      <Txt x={166} y={101} size={18.5} anchor="start">Train set</Txt>
      <Txt x={166} y={130} size={18.5} anchor="start">Test set</Txt>
      <Txt x={293} y={521} size={18.5}>DFT Energy [eV]</Txt>
      <Txt x={22} y={273} size={18.5} rotate>ML predicted Energy [eV]</Txt>
      <Txt x={293} y={27} size={25}>ML vs DFT adsorption energy</Txt>
      <Txt x={293} y={54} size={25}>for the CatBoost model</Txt>
      <Txt x={24} y={45} size={27}>a)</Txt>
    </div>
  );
}

function PanelB() {
  const rowTicks = FEATURES.map((_, i) => 9 - i);
  return (
    <>
      <div style={{ position: 'absolute', left: 540, top: 0 }}>
        <ScatterChart width={640} height={540} margin={{ top: 72, right: 26, bottom: 33, left: 30 }}>
          <XAxis type="number" dataKey="x" domain={[-3, 3]} allowDataOverflow ticks={SHAP_TICKS} interval={0} tickFormatter={fmt} height={30} tickSize={5} tickMargin={3} stroke="#333" tick={{ fill: '#333', fontSize: 13.5, fontFamily: FONT }} />
          <YAxis type="number" dataKey="y" domain={[-1, 10]} allowDataOverflow ticks={rowTicks} interval={0} tickFormatter={(v: number) => FEATURES[9 - v]} width={214} axisLine={false} tickLine={false} tickSize={0} tickMargin={31} tick={{ fill: '#333', fontSize: 16.4, fontFamily: FONT }} />
          {rowTicks.map((r) => (
            <ReferenceLine key={'g' + r} y={r} stroke="#cccccc" strokeDasharray="1 3" strokeWidth={1} />
          ))}
          <ReferenceLine x={0} stroke="#999999" strokeWidth={2} />
          {SHAP_ROWS.map((row, i) => (
            <Scatter key={FEATURES[i]} data={row.map(([s, dy, c]) => ({ x: s, y: 9 - i + dy, c }))} shape={cmapDot(3.8, 1, (d: any) => d.c)} isAnimationActive={false} />
          ))}
        </ScatterChart>
      </div>
      <div style={{ position: 'absolute', left: 1178, top: 72, width: 5, height: 405, background: `linear-gradient(to top, ${VIR.join(',')})` }} />
      <Txt x={1188} y={75} size={13.5} anchor="start" color="#333">High</Txt>
      <Txt x={1188} y={477} size={13.5} anchor="start" color="#333">Low</Txt>
      <Txt x={1226} y={275} size={14.5} rotate color="#333">Feature value</Txt>
      <Txt x={969} y={511} size={16.4} color="#333">SHAP value (impact on model output)</Txt>
      <Txt x={967} y={55} size={22.4}>Summary of SHAP values for the CatBoost model</Txt>
      <Txt x={613} y={43} size={27}>b)</Txt>
    </>
  );
}

function Colorbar({ left }: any) {
  return (
    <>
      <div style={{ position: 'absolute', left, top: 540 }}>
        <BarChart width={100} height={528} data={[{ k: 'cb', r: [ENERGY_MIN, ENERGY_MAX] }]} margin={{ top: 71, right: 30, bottom: 59, left: 0 }} barCategoryGap={0}>
          <XAxis dataKey="k" type="category" hide height={0} />
          <YAxis orientation="right" type="number" domain={[ENERGY_MIN, ENERGY_MAX]} allowDataOverflow ticks={CB_TICKS} interval={0} tickFormatter={fmt} width={50} tickSize={6} tickMargin={7} axisLine={false} stroke="#000" tick={tickStyle} />
          <Bar dataKey="r" fill="url(#viridisV)" isAnimationActive={false} />
        </BarChart>
      </div>
      <Frame l={left} t={611} w={20} h={398} />
    </>
  );
}

function ClusterPanel({ left, width, plotLeft, points, xDomain, yDomain, xTicks, yTicks }: any) {
  const data = points.map(([x, y, e]: number[]) => ({ x, y, e }));
  const plotRight = plotLeft + 399;
  return (
    <>
      <div style={{ position: 'absolute', left, top: 540 }}>
        <ScatterChart width={width} height={528} margin={{ top: 71, right: width - plotRight, bottom: 19, left: plotLeft - 60 }}>
          <XAxis type="number" dataKey="x" domain={xDomain} allowDataOverflow ticks={xTicks} interval={0} tickFormatter={fmt} height={40} tickSize={6} tickMargin={8} axisLine={false} stroke="#000" tick={tickStyle} />
          <YAxis type="number" dataKey="y" domain={yDomain} allowDataOverflow ticks={yTicks} interval={0} tickFormatter={fmt} width={60} tickSize={6} tickMargin={7} axisLine={false} stroke="#000" tick={tickStyle} />
          <Scatter data={data} shape={cmapDot(6.3, 0.8, (d: any) => (d.e - ENERGY_MIN) / (ENERGY_MAX - ENERGY_MIN))} isAnimationActive={false} />
        </ScatterChart>
      </div>
      <Frame l={left + plotLeft} t={611} w={399} h={398} />
    </>
  );
}

export default function App() {
  return (
    <div style={{ position: 'absolute', left: 0, top: 0, width: 1250, height: 1068, background: '#fff', overflow: 'hidden', fontFamily: FONT }}>
      <svg width={0} height={0} style={{ position: 'absolute' }}>
        <defs>
          <linearGradient id="viridisV" x1="0" y1="1" x2="0" y2="0">
            {VIR.map((c, i) => (
              <stop key={i} offset={i / 10} stopColor={c} />
            ))}
          </linearGradient>
        </defs>
      </svg>
      <PanelA />
      <PanelB />
      <ClusterPanel left={0} width={520} plotLeft={94} points={C_POINTS} xDomain={[-16.3, 27.05]} yDomain={[-16.08, 27.06]} xTicks={C_XTICKS} yTicks={C_YTICKS} />
      <Colorbar left={532} />
      <Txt x={293} y={1057} size={19}>Arbitrary x-axis (a.u.)</Txt>
      <Txt x={20} y={810} size={19} rotate>Arbitrary y-axis (a.u.)</Txt>
      <Txt x={610} y={810} size={19} rotate>Adsorption energy [eV]</Txt>
      <Txt x={293} y={562} size={25}>Clustering of the 2D reduced features</Txt>
      <Txt x={293} y={591} size={25}>with the adsorption energy</Txt>
      <Txt x={24} y={566} size={27}>c)</Txt>
      <ClusterPanel left={620} width={530} plotLeft={102} points={D_POINTS} xDomain={[-17.2, 23.9]} yDomain={[-16.96, 24.0]} xTicks={D_XTICKS} yTicks={D_YTICKS} />
      <Colorbar left={1162} />
      <Txt x={922} y={1057} size={19}>Arbitrary x-axis (a.u.)</Txt>
      <Txt x={650} y={810} size={19} rotate>Arbitrary y-axis (a.u.)</Txt>
      <Txt x={1240} y={810} size={19} rotate>Adsorption energy [eV]</Txt>
      <Txt x={922} y={562} size={25}>Clustering of the 2D reduced SHAP values</Txt>
      <Txt x={922} y={591} size={25}>with the adsorption energy</Txt>
      <Txt x={613} y={566} size={27}>d)</Txt>
    </div>
  );
}
